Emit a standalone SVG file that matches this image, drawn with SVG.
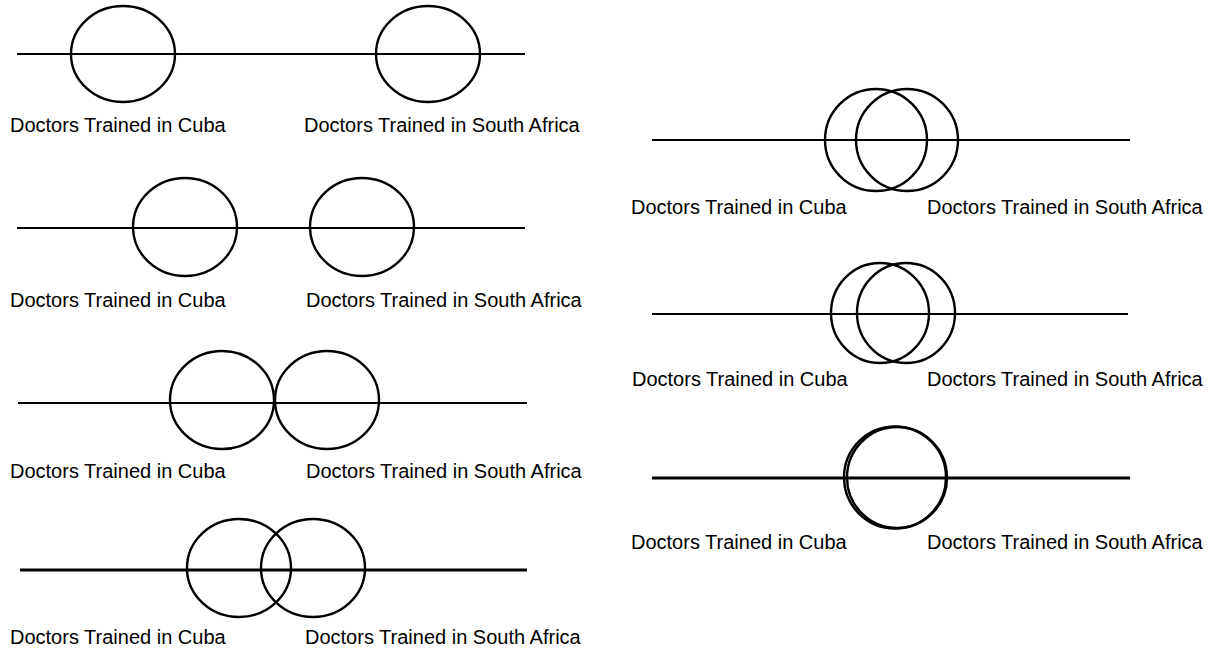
<svg xmlns="http://www.w3.org/2000/svg" width="1216" height="655" viewBox="0 0 1216 655">
  <style>
    .axis { stroke: #000; stroke-width: 2; fill: none; }
    .axis.heavy { stroke-width: 3; }
    .set { stroke: #000; stroke-width: 2.4; fill: none; }
    .lbl { font-family: "Liberation Sans", Arial, sans-serif; font-size: 20px; fill: #000; }
  </style>
  <rect width="1216" height="655" fill="#fff"/>

  <!-- Panel 1: far apart -->
  <g id="panel1">
    <g id="p1-connectors"><line class="axis" x1="17" y1="54" x2="525" y2="54"/></g>
    <g id="p1-cuba"><ellipse class="set" cx="123" cy="54" rx="52" ry="48"/><text class="lbl" x="10" y="132">Doctors Trained in Cuba</text></g>
    <g id="p1-sa"><ellipse class="set" cx="428" cy="54" rx="52" ry="48"/><text class="lbl" x="304" y="132">Doctors Trained in South Africa</text></g>
  </g>

  <!-- Panel 2: closer -->
  <g id="panel2">
    <g id="p2-connectors"><line class="axis" x1="17" y1="228" x2="525" y2="228"/></g>
    <g id="p2-cuba"><ellipse class="set" cx="185" cy="227" rx="52" ry="49"/><text class="lbl" x="10" y="307">Doctors Trained in Cuba</text></g>
    <g id="p2-sa"><ellipse class="set" cx="362" cy="227" rx="52" ry="49"/><text class="lbl" x="306" y="307">Doctors Trained in South Africa</text></g>
  </g>

  <!-- Panel 3: touching -->
  <g id="panel3">
    <g id="p3-connectors"><line class="axis" x1="18" y1="403" x2="527" y2="403"/></g>
    <g id="p3-cuba"><ellipse class="set" cx="222" cy="400" rx="52" ry="49"/><text class="lbl" x="10" y="478">Doctors Trained in Cuba</text></g>
    <g id="p3-sa"><ellipse class="set" cx="327" cy="400" rx="52" ry="49"/><text class="lbl" x="306" y="478">Doctors Trained in South Africa</text></g>
  </g>

  <!-- Panel 4: small overlap -->
  <g id="panel4">
    <g id="p4-connectors"><line class="axis heavy" x1="20" y1="570" x2="527" y2="570"/></g>
    <g id="p4-cuba"><ellipse class="set" cx="239" cy="568" rx="52" ry="49"/><text class="lbl" x="10" y="644">Doctors Trained in Cuba</text></g>
    <g id="p4-sa"><ellipse class="set" cx="313" cy="568" rx="52" ry="49"/><text class="lbl" x="305" y="644">Doctors Trained in South Africa</text></g>
  </g>

  <!-- Panel 5: large overlap -->
  <g id="panel5">
    <g id="p5-connectors"><line class="axis" x1="652" y1="140" x2="1130" y2="140"/></g>
    <g id="p5-cuba"><ellipse class="set" cx="876" cy="140" rx="51" ry="51"/><text class="lbl" x="631" y="214">Doctors Trained in Cuba</text></g>
    <g id="p5-sa"><ellipse class="set" cx="907" cy="140" rx="51" ry="51"/><text class="lbl" x="927" y="214">Doctors Trained in South Africa</text></g>
  </g>

  <!-- Panel 6: near-complete overlap -->
  <g id="panel6">
    <g id="p6-connectors"><line class="axis" x1="652" y1="314" x2="1128" y2="314"/></g>
    <g id="p6-cuba"><ellipse class="set" cx="880" cy="313" rx="49" ry="50"/><text class="lbl" x="632" y="386">Doctors Trained in Cuba</text></g>
    <g id="p6-sa"><ellipse class="set" cx="906" cy="313" rx="49" ry="50"/><text class="lbl" x="927" y="386">Doctors Trained in South Africa</text></g>
  </g>

  <!-- Panel 7: complete overlap -->
  <g id="panel7">
    <g id="p7-connectors"><line class="axis heavy" x1="652" y1="478" x2="1130" y2="478"/></g>
    <g id="p7-cuba"><ellipse class="set" cx="895" cy="477.5" rx="51" ry="51" stroke-width="2.5"/><text class="lbl" x="631" y="549">Doctors Trained in Cuba</text></g>
    <g id="p7-sa"><ellipse class="set" cx="897" cy="477.5" rx="50" ry="50.5" stroke-width="2"/><text class="lbl" x="927" y="549">Doctors Trained in South Africa</text></g>
  </g>
</svg>
